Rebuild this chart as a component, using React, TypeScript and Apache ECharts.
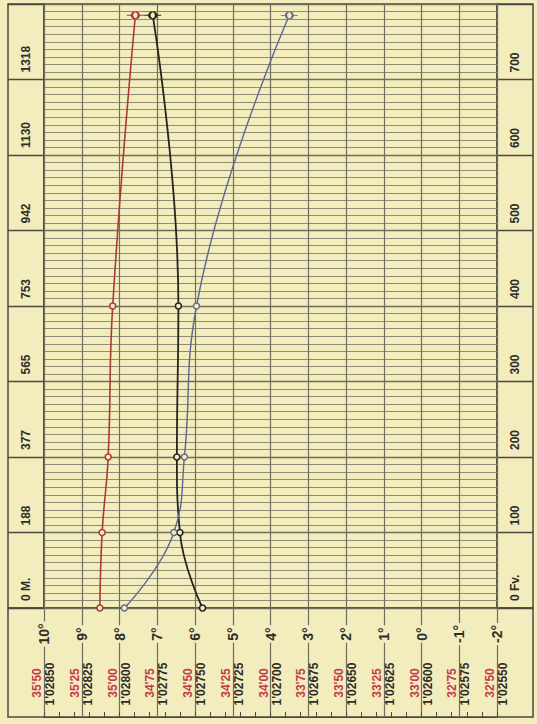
import React, { useEffect, useRef } from "react";
import * as echarts from "echarts";

// Observation depths (fathoms) and measured values
const depths = [0, 100, 200, 400, 785];
const salinity = [35.13, 35.115, 35.075, 35.045, 34.895];
const density = [1.02745, 1.0276, 1.02762, 1.02761, 1.02778];
const temperature = [7.87, 6.56, 6.28, 5.96, 3.5];

// Axis labels
const depthTicks = [0, 100, 200, 300, 400, 500, 600, 700];
const metreLabels = ["0 M.", "188", "377", "565", "753", "942", "1130", "1318"];
const fathomLabels = ["0 Fv.", "100", "200", "300", "400", "500", "600", "700"];
const tempTicks = [10, 9, 8, 7, 6, 5, 4, 3, 2, 1, 0, -1, -2];
const tempLabels = ["10°", "9°", "8°", "7°", "6°", "5°", "4°", "3°", "2°", "1°", "0°", "-1°", "-2°"];
const salinityLabels = ["35'50", "35'25", "35'00", "34'75", "34'50", "34'25", "34'00", "33'75", "33'50", "33'25", "33'00", "32'75", "32'50"];
const densityLabels = ["1'02850", "1'02825", "1'02800", "1'02775", "1'02750", "1'02725", "1'02700", "1'02675", "1'02650", "1'02625", "1'02600", "1'02575", "1'02550"];

const PAPER = "#f3ecbd";
const FRAME = "#4a4940";
const MAJOR = "#6f6d5e";
const MINOR = "#8f8c79";
const RED = "#a93c3a";
const RED_TXT = "#c23a4c";
const BLACK = "#24241f";
const BLUE = "#5b6795";
const TXT = "#2e2d27";
const FONT = '"Liberation Sans", "DejaVu Sans", sans-serif';

const BOTTOM_SYMBOL = "path://M0,4H3M7,4H10M3,4A2,2 0 1,1 7,4A2,2 0 1,1 3,4Z";

function seriesData(values: number[]) {
  return depths.map((d, i) =>
    i === depths.length - 1
      ? { value: [values[i], d], symbol: BOTTOM_SYMBOL, symbolSize: [17, 7] }
      : { value: [values[i], d] }
  );
}

export default function App() {
  const ref = useRef<HTMLDivElement>(null);
  useEffect(() => {
    if (!ref.current) return;
    const chart = echarts.init(ref.current, undefined, { renderer: "svg" });
    const hidden = { show: false };
    const option: any = {
      animation: false,
      backgroundColor: PAPER,
      grid: [
        { left: 44, top: 4, width: 453, height: 604, show: true, borderColor: FRAME, borderWidth: 1.5, backgroundColor: "transparent" },
        { left: 8, top: 4, width: 36, height: 604, show: true, borderColor: FRAME, borderWidth: 1.5, backgroundColor: "transparent" },
        { left: 497, top: 4, width: 36, height: 604, show: true, borderColor: FRAME, borderWidth: 1.5, backgroundColor: "transparent" },
        { left: 44, top: 608, width: 453, height: 109, show: false },
        { left: 8, top: 608, width: 525, height: 109, show: true, borderColor: FRAME, borderWidth: 1.5, backgroundColor: "transparent" },
      ],
      xAxis: [
        {
          gridIndex: 0, type: "value", min: -2, max: 10, interval: 1, inverse: true,
          axisLine: hidden, axisTick: hidden, axisLabel: hidden,
          splitLine: { show: true, lineStyle: { color: MAJOR, width: 1.2 } },
        },
        { gridIndex: 0, type: "value", min: 32.5, max: 35.5, inverse: true, show: false },
        { gridIndex: 0, type: "value", min: 1.0255, max: 1.0285, inverse: true, show: false },
        { gridIndex: 1, type: "value", min: 0, max: 1, show: false },
        { gridIndex: 2, type: "value", min: 0, max: 1, show: false },
        {
          gridIndex: 3, type: "value", min: -2, max: 10, interval: 1, inverse: true,
          axisLine: hidden, axisTick: hidden, axisLabel: hidden,
          splitLine: { show: true, lineStyle: { color: MAJOR, width: 1.2 } },
        },
        {
          gridIndex: 3, type: "value", min: 32.5, max: 35.5, interval: 0.1, inverse: true, position: "bottom",
          axisLine: { show: true, lineStyle: { color: FRAME, width: 1.2 } },
          axisTick: { show: true, inside: true, length: 5, lineStyle: { color: FRAME, width: 1 } },
          axisLabel: hidden, splitLine: hidden,
        },
        { gridIndex: 4, type: "value", min: 0, max: 1, show: false },
      ],
      yAxis: [
        {
          gridIndex: 0, type: "value", min: 0, max: 800, interval: 100,
          axisLine: hidden, axisTick: hidden, axisLabel: hidden,
          splitLine: { show: true, lineStyle: { color: MAJOR, width: 1.4 } },
          minorTick: { show: false, splitNumber: 10 },
          minorSplitLine: { show: true, lineStyle: { color: MINOR, width: 1 } },
        },
        {
          gridIndex: 1, type: "value", min: 0, max: 800, interval: 100,
          axisLine: hidden, axisTick: hidden, axisLabel: hidden,
          splitLine: { show: true, lineStyle: { color: FRAME, width: 1.3 } },
        },
        {
          gridIndex: 2, type: "value", min: 0, max: 800, interval: 100,
          axisLine: hidden, axisTick: hidden, axisLabel: hidden,
          splitLine: { show: true, lineStyle: { color: FRAME, width: 1.3 } },
        },
        { gridIndex: 3, type: "value", min: 0, max: 1, show: false },
        { gridIndex: 4, type: "value", min: 0, max: 1, show: false },
      ],
      series: [
        {
          name: "Saltholdighed", type: "line", xAxisIndex: 1, yAxisIndex: 0,
          data: seriesData(salinity),
          smooth: 0.45, symbol: "circle", symbolSize: 6,
          lineStyle: { color: RED, width: 1.6 },
          itemStyle: { color: PAPER, borderColor: RED, borderWidth: 1.6 },
          z: 5,
        },
        {
          name: "Egentlig Vægt", type: "line", xAxisIndex: 2, yAxisIndex: 0,
          data: seriesData(density),
          smooth: 0.45, symbol: "circle", symbolSize: 6,
          lineStyle: { color: BLACK, width: 1.8 },
          itemStyle: { color: PAPER, borderColor: BLACK, borderWidth: 1.6 },
          z: 5,
        },
        {
          name: "Temperatur", type: "line", xAxisIndex: 0, yAxisIndex: 0,
          data: seriesData(temperature),
          smooth: 0.45, symbol: "circle", symbolSize: 6,
          lineStyle: { color: BLUE, width: 1.4 },
          itemStyle: { color: PAPER, borderColor: BLUE, borderWidth: 1.4 },
          z: 5,
        },
      ],
    };
    chart.setOption(option);

    const px = (axis: number, v: number) => chart.convertToPixel({ xAxisIndex: axis } as any, v) as unknown as number;
    const py = (axis: number, v: number) => chart.convertToPixel({ yAxisIndex: axis } as any, v) as unknown as number;

    const rotText = (x: number, y: number, text: string, fill: string, size: number, align: string, bg?: string) => ({
      type: "text",
      x, y,
      rotation: Math.PI / 2,
      z: 100,
      style: {
        text, fill,
        fontSize: size, fontFamily: FONT, fontWeight: "bold",
        align, textAlign: align,
        verticalAlign: "middle", textVerticalAlign: "middle",
        backgroundColor: bg, padding: bg ? [1, 2] : 0,
      },
    });

    const elements: any[] = [];
    const leftX = px(3, 0.5);
    const rightX = px(4, 0.5);
    depthTicks.forEach((d, i) => {
      const y = py(0, d) - 7;
      elements.push(rotText(leftX, y, metreLabels[i], TXT, 12, "left"));
      elements.push(rotText(rightX, y, fathomLabels[i], TXT, 12, "left"));
    });
    const base = py(0, 0);
    tempTicks.forEach((t, i) => {
      const x = px(5, t);
      elements.push(rotText(x, base + 26, tempLabels[i], TXT, 14, "center", PAPER));
      elements.push(rotText(x - 7, base + 75, salinityLabels[i], RED_TXT, 12, "center"));
      elements.push(rotText(x + 6, base + 76, densityLabels[i], TXT, 12, "center"));
    });
    chart.setOption({ graphic: { elements } });

    return () => chart.dispose();
  }, []);
  return (
    <div
      ref={ref}
      style={{ position: "absolute", left: 0, top: 0, width: 537, height: 724 }}
    />
  );
}
